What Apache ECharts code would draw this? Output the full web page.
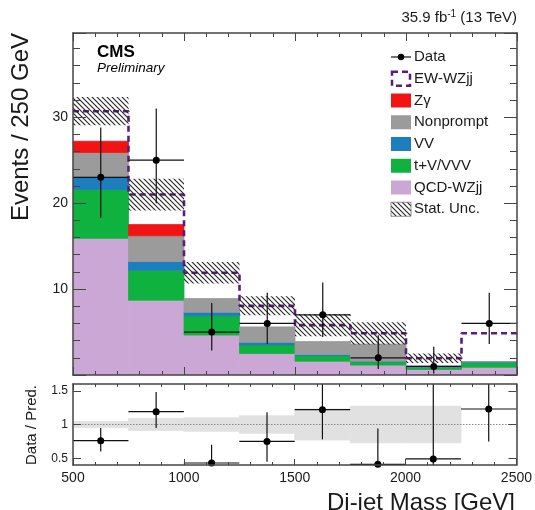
<!DOCTYPE html>
<html><head><meta charset="utf-8">
<script src="https://cdn.jsdelivr.net/npm/echarts@6/dist/echarts.min.js"></script>
<style>html,body{margin:0;padding:0;background:#fff}#c{width:535px;height:510px}</style>
</head><body><div id="c"></div>
<script>
// ---- data ----
const binEdges   = [500, 750, 1000, 1250, 1500, 1750, 2000, 2250, 2500];
const qcdWZjj    = [15.9, 8.7, 4.65, 2.5, 1.6, 1.15, 0.65, 0.9];
const tVVVV      = [5.7, 3.5, 2.25, 1.0, 0.65, 0.4, 0.25, 0.55];
const vv         = [1.5, 1.0, 0.4, 0.3, 0.15, 0.05, 0.05, 0.08];
const nonprompt  = [2.8, 3.0, 1.6, 1.8, 1.5, 2.0, 0.1, 0.02];
const zgamma     = [1.3, 1.3, 0, 0, 0, 0, 0, 0];
const ewWZjj     = [3.5, 3.5, 3.0, 2.45, 1.9, 1.25, 0.9, 3.3];
const statUnc    = [1.65, 1.85, 1.25, 1.1, 1.3, 1.3, 0.55, 0];
const dataCounts = [23, 25, 5, 6, 7, 2, 1, 6];
const dataErrLow = [4.7, 5.0, 2.16, 2.38, 2.58, 1.29, 0.83, 2.38];
const dataErrHigh= [5.8, 6.0, 3.38, 3.58, 3.77, 2.64, 2.30, 3.58];
const ratio      = [0.76, 1.19, 0.43, 0.75, 1.22, 0.41, 0.49, 1.23];
const ratioLow   = [0.60, 0.95, 0.24, 0.45, 0.78, 0.15, 0.09, 0.75];
const ratioHigh  = [0.95, 1.48, 0.70, 1.18, 1.86, 0.94, 1.70, 1.97];
const ratioBand  = [0.045, 0.09, 0.10, 0.13, 0.23, 0.27, 0.27, 0];
const ratioTicks = [0.5, 1, 1.5];

const F = '"Liberation Sans", Arial, Helvetica, sans-serif';
const TXT = '#1a1a1a';
const FRAME = '#444';
const yMainMin = 0, yMainMax = 39.8, rMin = 0.4, rMax = 1.6;

const colors = {
  qcd: '#cba7d6', tv: '#10b23f', vv: '#1c7dbf', np: '#9b9b9b', zg: '#f21414', ew: '#5b1d7a'
};

// hatch pattern
const pc = document.createElement('canvas'); pc.width = 5; pc.height = 5;
const cx = pc.getContext('2d');
cx.strokeStyle = '#222'; cx.lineWidth = 1.1;
[[-1,-1,6,6],[-1,4,1,6],[4,-1,6,1]].forEach(s => { cx.beginPath(); cx.moveTo(s[0],s[1]); cx.lineTo(s[2],s[3]); cx.stroke(); });
const hatch = { image: pc, repeat: 'repeat' };

function rectItem(params, api) {
  const x0 = api.value(0), x1 = api.value(1), y0 = api.value(2), y1 = api.value(3);
  const p0 = api.coord([x0, y1]), p1 = api.coord([x1, y0]);
  const c = api.visual('color');
  return { type: 'rect', shape: { x: p0[0], y: p0[1], width: p1[0] - p0[0], height: p1[1] - p0[1] },
           style: { fill: c, stroke: c, lineWidth: 0.8 } };
}
function hatchItem(params, api) {
  const x0 = api.value(0), x1 = api.value(1), y0 = api.value(2), y1 = api.value(3);
  const p0 = api.coord([x0, y1]), p1 = api.coord([x1, y0]);
  return { type: 'rect', shape: { x: p0[0], y: p0[1], width: p1[0] - p0[0], height: p1[1] - p0[1] },
           style: { fill: hatch } };
}
function pointItem(params, api) {
  const lo = api.value(0), hi = api.value(1), y = api.value(2), yl = api.value(3), yh = api.value(4);
  const xc = (lo + hi) / 2;
  const pcn = api.coord([xc, y]), pl = api.coord([lo, y]), ph = api.coord([hi, y]);
  const pyl = api.coord([xc, yl]), pyh = api.coord([xc, yh]);
  return { type: 'group', children: [
    { type: 'line', shape: { x1: pl[0], y1: pcn[1], x2: ph[0], y2: pcn[1] }, style: { stroke: '#111', lineWidth: 1.2 } },
    { type: 'line', shape: { x1: pcn[0], y1: pyl[1], x2: pcn[0], y2: pyh[1] }, style: { stroke: '#111', lineWidth: 1.2 } },
    { type: 'circle', shape: { cx: pcn[0], cy: pcn[1], r: 3.5 }, style: { fill: '#000' } }
  ]};
}

const layers = [
  { name: 'QCD-WZjj', v: qcdWZjj, c: colors.qcd },
  { name: 't+V/VVV', v: tVVVV, c: colors.tv },
  { name: 'VV', v: vv, c: colors.vv },
  { name: 'Nonprompt', v: nonprompt, c: colors.np },
  { name: 'Zγ', v: zgamma, c: colors.zg }
];
let base = qcdWZjj.map(() => 0);
const series = [];
layers.forEach((L, k) => {
  const d = L.v.map((v, i) => [binEdges[i], binEdges[i + 1], base[i], base[i] + v]).filter((d, i) => L.v[i] > 0);
  base = base.map((b, i) => b + L.v[i]);
  series.push({ type: 'custom', name: L.name, xAxisIndex: 0, yAxisIndex: 0, data: d, renderItem: rectItem,
                itemStyle: { color: L.c }, z: 2 + k, clip: true, silent: true, encode: { x: [0, 1], y: [2, 3] } });
});
const total = base.map((b, i) => b + ewWZjj[i]);
const ewLine = [];
total.forEach((t, i) => { ewLine.push([binEdges[i], t]); ewLine.push([binEdges[i + 1], t]); });
series.push({ type: 'line', name: 'EW-WZjj', xAxisIndex: 0, yAxisIndex: 0, data: ewLine, symbol: 'none',
              lineStyle: { color: colors.ew, width: 2.6, type: [6, 4] }, z: 8, clip: true, silent: true });
series.push({ type: 'custom', name: 'Stat. Unc.', xAxisIndex: 0, yAxisIndex: 0,
              data: statUnc.map((u, i) => [binEdges[i], binEdges[i + 1], total[i] - u, total[i] + u]).filter((d, i) => statUnc[i] > 0),
              renderItem: hatchItem, z: 9, clip: true, silent: true, encode: { x: [0, 1], y: [2, 3] } });
series.push({ type: 'custom', name: 'Data', xAxisIndex: 0, yAxisIndex: 0,
              data: dataCounts.map((n, i) => [binEdges[i], binEdges[i + 1], n,
                    Math.max(yMainMin, n - dataErrLow[i]), Math.min(yMainMax, n + dataErrHigh[i])]),
              renderItem: pointItem, z: 10, clip: false, silent: true, encode: { x: [0, 1], y: [2, 3, 4] } });
// ratio panel
series.push({ type: 'custom', name: 'band', xAxisIndex: 2, yAxisIndex: 2,
              data: ratioBand.map((b, i) => [binEdges[i], binEdges[i + 1], 1 - b, 1 + b]).filter((d, i) => ratioBand[i] > 0),
              renderItem: rectItem, itemStyle: { color: '#e1e1e1' }, z: 2, clip: true, silent: true, encode: { x: [0, 1], y: [2, 3] } });
series.push({ type: 'line', name: 'unity', xAxisIndex: 2, yAxisIndex: 2, data: [[binEdges[0], 1], [binEdges[8], 1]],
              symbol: 'none', lineStyle: { color: '#888', width: 1, type: [1.5, 1.5] }, z: 3, silent: true });
series.push({ type: 'custom', name: 'ratio', xAxisIndex: 2, yAxisIndex: 2,
              data: ratio.map((r, i) => [binEdges[i], binEdges[i + 1], r, Math.max(rMin, ratioLow[i]), Math.min(rMax, ratioHigh[i])]),
              renderItem: pointItem, z: 10, clip: false, silent: true, encode: { x: [0, 1], y: [2, 3, 4] } });

function xAx(grid, pos, labels, major, minor) {
  return { type: 'value', gridIndex: grid, position: pos, min: 500, max: 2500, interval: 500, z: 20,
    axisLine: { show: true, onZero: false, lineStyle: { color: FRAME, width: 1.5 } },
    axisTick: { show: true, inside: true, length: major, lineStyle: { color: FRAME, width: 1 } },
    minorTick: { show: true, splitNumber: 5, length: minor, lineStyle: { color: FRAME, width: 1 } },
    axisLabel: { show: labels, color: TXT, fontSize: 14, fontFamily: F, margin: 6, formatter: v => String(v) },
    splitLine: { show: false } };
}
function yMain(pos, labels) {
  return { type: 'value', gridIndex: 0, position: pos, min: yMainMin, max: yMainMax, interval: 10, z: 20,
    axisLine: { show: true, onZero: false, lineStyle: { color: FRAME, width: 1.5 } },
    axisTick: { show: true, inside: true, length: 13, lineStyle: { color: FRAME, width: 1 } },
    minorTick: { show: true, splitNumber: 5, length: 7, lineStyle: { color: FRAME, width: 1 } },
    axisLabel: { show: labels, color: TXT, fontSize: 14, fontFamily: F, margin: 5,
                 formatter: v => (v > 0 && Math.abs(v % 10) < 1e-6) ? String(v) : '' },
    splitLine: { show: false } };
}
function yRatio(pos, labels) {
  return { type: 'value', gridIndex: 1, position: pos, min: rMin, max: rMax, z: 20,
    axisLine: { show: true, onZero: false, lineStyle: { color: FRAME, width: 1.5 } },
    axisTick: { show: true, inside: true, length: 8, customValues: ratioTicks, lineStyle: { color: FRAME, width: 1 } },
    axisLabel: { show: labels, customValues: ratioTicks, color: TXT, fontSize: 12, fontFamily: F, margin: 5,
                 formatter: v => String(v) },
    splitLine: { show: false } };
}

const legendRows = [
  { t: 'Data', k: 'data' }, { t: 'EW-WZjj', k: 'ew' }, { t: 'Zγ', k: colors.zg }, { t: 'Nonprompt', k: colors.np },
  { t: 'VV', k: colors.vv }, { t: 't+V/VVV', k: colors.tv }, { t: 'QCD-WZjj', k: colors.qcd }, { t: 'Stat. Unc.', k: 'hatch' }
];
const graphics = [];
legendRows.forEach((r, i) => {
  const yc = 57 + i * 21.75;
  if (r.k === 'data') {
    graphics.push({ type: 'line', shape: { x1: 391, y1: yc, x2: 411, y2: yc }, style: { stroke: '#111', lineWidth: 1.2 } });
    graphics.push({ type: 'circle', shape: { cx: 401, cy: yc, r: 3.2 }, style: { fill: '#000' } });
  } else if (r.k === 'ew') {
    graphics.push({ type: 'rect', shape: { x: 392, y: yc - 7, width: 18, height: 14 },
                    style: { fill: 'none', stroke: colors.ew, lineWidth: 2.5, lineDash: [6, 4] } });
  } else if (r.k === 'hatch') {
    graphics.push({ type: 'rect', shape: { x: 391, y: yc - 7, width: 20, height: 14 }, style: { fill: hatch, stroke: '#777', lineWidth: 0.8 } });
  } else {
    graphics.push({ type: 'rect', shape: { x: 391, y: yc - 7, width: 20, height: 14 }, style: { fill: r.k } });
  }
  graphics.push({ type: 'text', x: 414, y: yc, style: { text: r.t, fill: TXT, font: '15px ' + F, textVerticalAlign: 'middle' } });
});
graphics.push({ type: 'text', x: 97, y: 52, style: { text: 'CMS', fill: '#000', font: 'bold 17px ' + F, textVerticalAlign: 'middle' } });
graphics.push({ type: 'text', x: 97, y: 68, style: { text: 'Preliminary', fill: '#000', font: 'italic 13.5px ' + F, textVerticalAlign: 'middle' } });
graphics.push({ type: 'text', x: 517, y: 9, style: { text: '{a|35.9 fb}{s|-1}{a| (13 TeV)}', align: 'right', verticalAlign: 'top',
  rich: { a: { fontSize: 15, fontFamily: F, fill: TXT, lineHeight: 18 },
          s: { fontSize: 10, fontFamily: F, fill: TXT, lineHeight: 10, verticalAlign: 'top' } } } });
graphics.push({ type: 'text', x: 21.5, y: 33, rotation: Math.PI / 2,
  style: { text: 'Events / 250 GeV', fill: TXT, font: '24px ' + F, textAlign: 'right', textVerticalAlign: 'middle' } });
graphics.push({ type: 'text', x: 32, y: 425, rotation: Math.PI / 2,
  style: { text: 'Data / Pred.', fill: TXT, font: '15px ' + F, textAlign: 'center', textVerticalAlign: 'middle' } });
graphics.push({ type: 'text', x: 515, y: 491,
  style: { text: 'Di-jet Mass [GeV]', fill: TXT, font: '24px ' + F, textAlign: 'right', textVerticalAlign: 'top' } });

const chart = echarts.init(document.getElementById('c'), null, { renderer: 'canvas' });
chart.setOption({
  animation: false,
  backgroundColor: '#fff',
  grid: [
    { left: 73, right: 18, top: 33, height: 342, containLabel: false },
    { left: 73, right: 18, top: 384, height: 81, containLabel: false }
  ],
  xAxis: [ xAx(0, 'bottom', false, 8, 4), xAx(0, 'top', false, 8, 4), xAx(1, 'bottom', true, 6, 3), xAx(1, 'top', false, 6, 3) ],
  yAxis: [ yMain('left', true), yMain('right', false), yRatio('left', true), yRatio('right', false) ],
  series: series,
  graphic: graphics
});
</script></body></html>
